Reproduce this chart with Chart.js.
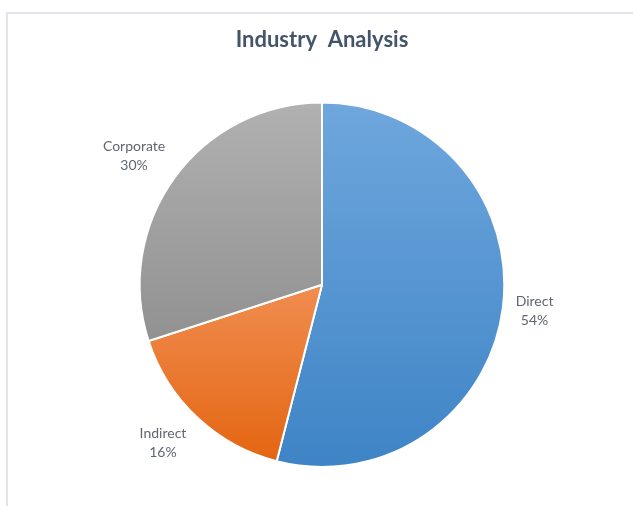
<!DOCTYPE html>
<html>
<head>
<meta charset="utf-8">
<script src="https://cdn.jsdelivr.net/npm/chart.js@4/dist/chart.umd.min.js"></script>
<style>
  html, body { margin: 0; padding: 0; background: #fff; }
  #frame {
    position: absolute; left: 6px; top: 12px; width: 627px; height: 494px;
    border-top: 2px solid #e3e3ef; border-left: 2px solid #e3e3ef;
  }
  #wrap { position: absolute; left: 0; top: 0; width: 633px; height: 506px; }
</style>
</head>
<body>
<div id="frame"></div>
<div id="wrap"><canvas id="pie"></canvas></div>
<script>
const labels = ['Direct', 'Indirect', 'Corporate'];
const values = [54, 16, 30];
const topColors = ['#6fa7dd', '#f08d50', '#b1b1b1'];
const bottomColors = ['#3e84c6', '#e3640f', '#808080'];

function sliceFill(context) {
    const chart = context.chart;
    const area = chart.chartArea;
    const i = context.dataIndex;
    if (!area) return topColors[i];
    // orange slice only lives below the centre
    const y0 = i === 1 ? (area.top + area.bottom) / 2 : area.top;
    const g = chart.ctx.createLinearGradient(0, y0, 0, area.bottom);
    g.addColorStop(0, topColors[i]);
    g.addColorStop(1, bottomColors[i]);
    return g;
}

const outsideLabels = {
    id: 'outsideLabels',
    afterDatasetsDraw(chart) {
        const ctx = chart.ctx;
        const meta = chart.getDatasetMeta(0);
        const total = values.reduce((a, b) => a + b, 0);
        ctx.save();
        ctx.font = '14px Lato';
        ctx.fillStyle = '#5f6670';
        ctx.textAlign = 'center';
        ctx.textBaseline = 'middle';
        meta.data.forEach((arc, i) => {
            const mid = (arc.startAngle + arc.endAngle) / 2;
            const c = Math.cos(mid), s = Math.sin(mid);
            const x = arc.x + c * (arc.outerRadius + 40) - (c > 0 ? 8 : 10 * Math.abs(c));
            const y = arc.y + s * (arc.outerRadius + 35) - 1;
            ctx.fillText(labels[i], x, y - 9);
            ctx.fillText(Math.round(values[i] / total * 100) + '%', x, y + 10);
        });
        ctx.restore();
    }
};

new Chart('pie', {
    type: 'pie',
    data: {
        labels: labels,
        datasets: [{
            data: values,
            backgroundColor: sliceFill,
            borderColor: '#ffffff',
            borderWidth: 2
        }]
    },
    options: {
        responsive: true,
        maintainAspectRatio: false,
        animation: false,
        layout: {
            padding: { left: 138, right: 127, top: 0, bottom: 38 }
        },
        plugins: {
            legend: { display: false },
            tooltip: { enabled: false },
            title: {
                display: true,
                text: 'Industry  Analysis',
                color: '#44546a',
                font: { family: 'Lato', size: 22, weight: 'bold' },
                padding: { top: 27, bottom: 48 }
            }
        }
    },
    plugins: [outsideLabels]
});
</script>
</body>
</html>
